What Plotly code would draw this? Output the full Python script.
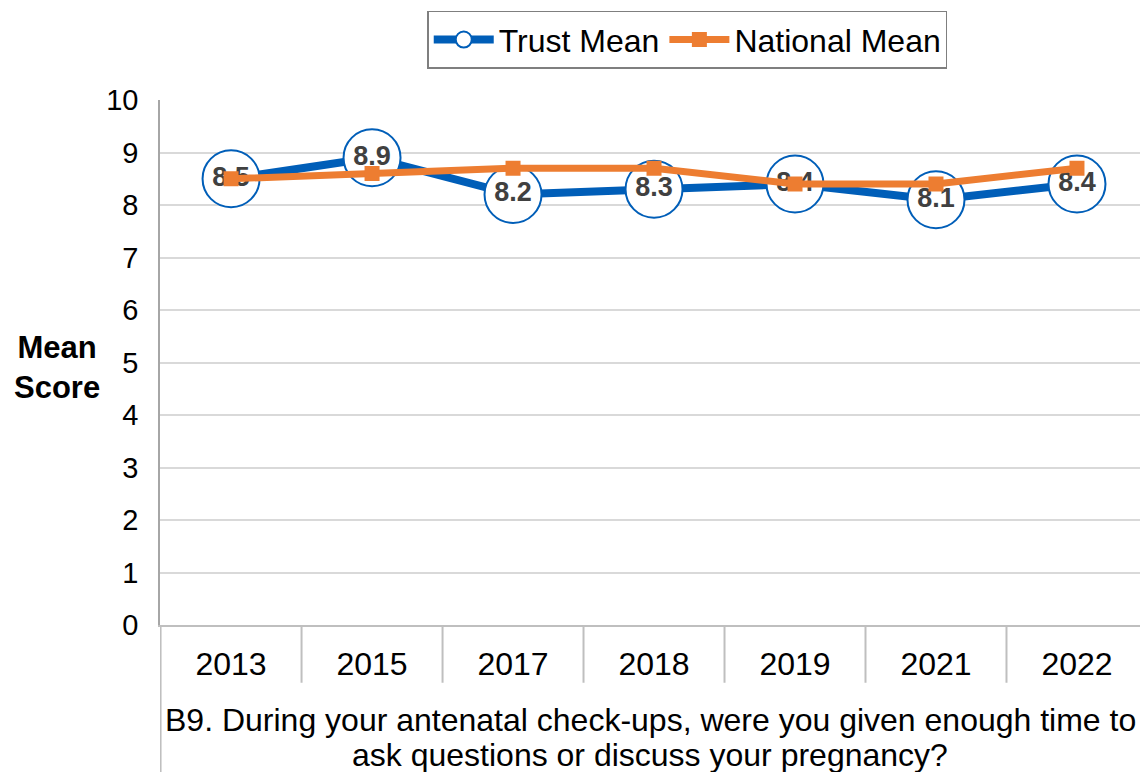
import plotly.graph_objects as go

years = ["2013", "2015", "2017", "2018", "2019", "2021", "2022"]
trust_mean = [8.5, 8.9, 8.2, 8.3, 8.4, 8.1, 8.4]
national_mean = [8.5, 8.6, 8.7, 8.7, 8.4, 8.4, 8.7]
y_ticks = list(range(0, 11))
question_lines = [
    "B9. During your antenatal check-ups, were you given enough time to",
    "ask questions or discuss your pregnancy?",
]

BLUE = "#005EB8"
ORANGE = "#ED7D31"
FONT = "Liberation Sans, Arial, sans-serif"

fig = go.Figure()

fig.add_trace(go.Scatter(
    x=years, y=trust_mean, name="Trust Mean",
    mode="lines+markers+text",
    line=dict(color=BLUE, width=8),
    marker=dict(symbol="circle", size=57, color="white",
                line=dict(color=BLUE, width=2)),
    text=[f"{v:.1f}" for v in trust_mean],
    textposition="middle center",
    textfont=dict(family=FONT, size=27, color="#404040", weight="bold"),
    cliponaxis=False,
))

fig.add_trace(go.Scatter(
    x=years, y=national_mean, name="National Mean",
    mode="lines+markers",
    line=dict(color=ORANGE, width=7),
    marker=dict(symbol="square", size=15, color=ORANGE),
    cliponaxis=False,
))

# category dividers under the x axis, plus the long left edge
shapes = []
for k in range(1, len(years)):
    shapes.append(dict(type="line", xref="x", yref="paper",
                       x0=k - 0.5, x1=k - 0.5, y0=0, y1=-0.11,
                       line=dict(color="#BFBFBF", width=2)))
shapes.append(dict(type="line", xref="x", yref="paper",
                   x0=-0.5, x1=-0.5, y0=0, y1=-0.3,
                   line=dict(color="#BFBFBF", width=2)))

annotations = [dict(
    text="<b>Mean<br>Score</b>", xref="paper", yref="paper",
    x=-0.105, y=0.49, xanchor="center", yanchor="middle",
    showarrow=False, font=dict(family=FONT, size=31, color="black"),
)]
# two-line question under the categories, with tight line spacing
for line_text, ypos in zip(question_lines, [-0.181, -0.2476]):
    annotations.append(dict(
        text=line_text, xref="paper", yref="paper",
        x=0.5, y=ypos, xanchor="center", yanchor="middle",
        showarrow=False, font=dict(family=FONT, size=32, color="black"),
    ))

fig.update_layout(
    width=1140, height=772,
    margin=dict(l=160, r=0, t=100, b=147),
    paper_bgcolor="white", plot_bgcolor="white",
    font=dict(family=FONT, color="black"),
    shapes=shapes,
    showlegend=True,
    legend=dict(
        orientation="h", x=0.538, xanchor="center", y=1.17, yanchor="top",
        bordercolor="#7F7F7F", borderwidth=1.5,
        font=dict(family=FONT, size=32, color="black"),
        itemwidth=60, tracegroupgap=0,
    ),
    annotations=annotations,
)

fig.update_xaxes(
    type="category", range=[-0.504, 6.447],
    showgrid=False, showline=True, linecolor="#BFBFBF", linewidth=2,
    ticks="", tickfont=dict(family=FONT, size=32, color="black"),
    ticklabelstandoff=10,
)

fig.update_yaxes(
    range=[0, 10], tickvals=y_ticks, ticktext=[str(v) for v in y_ticks],
    showgrid=True, gridcolor="#D9D9D9", gridwidth=1.5,
    showline=True, linecolor="#A6A6A6", linewidth=1.5,
    zeroline=False, ticks="", ticklabelstandoff=14,
    tickfont=dict(family=FONT, size=29, color="black"),
)

fig.write_html("out.html")
